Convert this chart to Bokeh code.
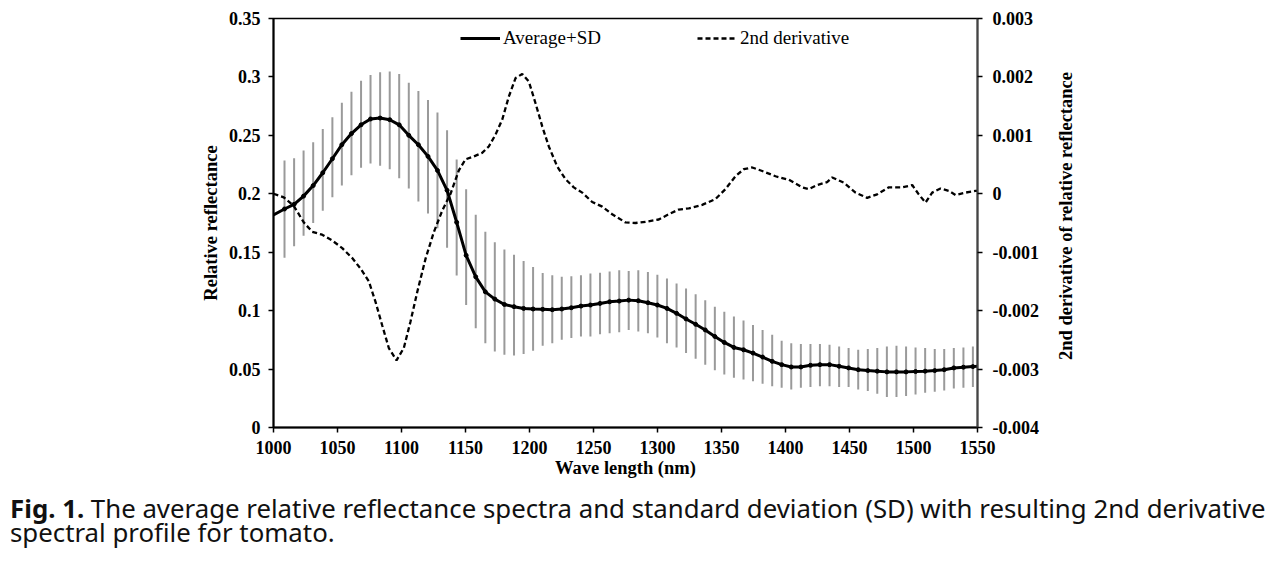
from bokeh.plotting import figure
from bokeh.models import (Range1d, LinearAxis, FixedTicker, Legend, LegendItem, Div)
from bokeh.layouts import column, row
from bokeh.embed import file_html
from bokeh.resources import INLINE

# ---- data ----
bar_wl = [1008.6, 1016.1, 1023.5, 1031.0, 1038.5, 1046.0, 1053.4, 1060.9, 1068.4, 1075.8,
          1083.3, 1090.8, 1098.2, 1105.7, 1113.2, 1120.7, 1128.1, 1135.6, 1143.1, 1150.5,
          1158.0, 1165.5, 1172.9, 1180.4, 1187.9, 1195.4, 1202.8, 1210.3, 1217.8, 1225.2,
          1232.7, 1240.2, 1247.6, 1255.1, 1262.6, 1270.1, 1277.5, 1285.0, 1292.5, 1299.9,
          1307.4, 1314.9, 1322.3, 1329.8, 1337.3, 1344.8, 1352.2, 1359.7, 1367.2, 1374.6,
          1382.1, 1389.6, 1397.0, 1404.5, 1412.0, 1419.5, 1426.9, 1434.4, 1441.9, 1449.3,
          1456.8, 1464.3, 1471.7, 1479.2, 1486.7, 1494.2, 1501.6, 1509.1, 1516.6, 1524.0,
          1531.5, 1539.0, 1546.4]

mean_wl = [1000.0] + bar_wl + [1550.0]
mean_refl = [0.182,
             0.187, 0.191, 0.198, 0.207, 0.218, 0.230, 0.242, 0.2515, 0.259, 0.264,
             0.2648, 0.2634, 0.259, 0.250, 0.242, 0.232, 0.220, 0.203, 0.1756, 0.1473,
             0.1289, 0.1161, 0.1099, 0.1053, 0.1034, 0.1019, 0.1014, 0.1011, 0.1008, 0.1014,
             0.1025, 0.1039, 0.1048, 0.1062, 0.1076, 0.1082, 0.109, 0.1085, 0.1068, 0.1048,
             0.1019, 0.0977, 0.0929, 0.0883, 0.0835, 0.0779, 0.0728, 0.0685, 0.0665, 0.0637,
             0.0603, 0.0566, 0.0538, 0.0518, 0.0518, 0.0532, 0.0538, 0.0538, 0.0524, 0.051,
             0.0495, 0.0487, 0.0482, 0.0476, 0.0476, 0.0476, 0.0479, 0.0482, 0.0487, 0.0495,
             0.051, 0.0516, 0.0521,
             0.0525]

sd_upper = [0.2285, 0.2305, 0.237, 0.244, 0.2554, 0.2656, 0.278, 0.2874, 0.2967, 0.3016,
            0.304, 0.3047, 0.3024, 0.295, 0.288, 0.2803, 0.2696, 0.2543, 0.2294, 0.2039,
            0.182, 0.1676, 0.1586, 0.1523, 0.1478, 0.1424, 0.1373, 0.1322, 0.1303, 0.1289,
            0.1294, 0.1303, 0.1317, 0.1325, 0.1336, 0.1345, 0.134, 0.1345, 0.1331, 0.1308,
            0.1274, 0.1232, 0.1189, 0.1141, 0.109, 0.1034, 0.0991, 0.0949, 0.0915, 0.0878,
            0.0835, 0.0793, 0.0742, 0.0722, 0.0714, 0.0714, 0.0714, 0.0708, 0.0694, 0.068,
            0.0665, 0.0671, 0.068, 0.0694, 0.0699, 0.0694, 0.0685, 0.068, 0.0671, 0.0671,
            0.068, 0.0685, 0.0694]

sd_lower = [0.1453, 0.155, 0.164, 0.175, 0.1855, 0.197, 0.207, 0.2158, 0.2223, 0.226,
            0.224, 0.2209, 0.2132, 0.2045, 0.1934, 0.1832, 0.1705, 0.1538, 0.130, 0.1048,
            0.085, 0.0722, 0.0651, 0.0623, 0.0617, 0.0628, 0.0657, 0.070, 0.0722, 0.075,
            0.0765, 0.0779, 0.0779, 0.0799, 0.0807, 0.0816, 0.0835, 0.0821, 0.0807, 0.077,
            0.0722, 0.0685, 0.0637, 0.0589, 0.0538, 0.049, 0.0453, 0.0425, 0.041, 0.0396,
            0.0374, 0.0354, 0.034, 0.0326, 0.034, 0.0346, 0.0354, 0.0354, 0.0346, 0.0346,
            0.0326, 0.0312, 0.0289, 0.026, 0.026, 0.0269, 0.0283, 0.0297, 0.0306, 0.0317,
            0.0334, 0.034, 0.0346]

deriv_wl = [1000.0, 1008.0, 1015.9, 1023.7, 1030.2, 1038.0, 1045.9, 1053.7, 1061.5, 1068.0,
            1074.5, 1079.7, 1084.9, 1090.1, 1096.1, 1101.8, 1107.0, 1112.3, 1118.8, 1125.2,
            1131.8, 1138.3, 1144.8, 1150.0, 1156.5, 1163.0, 1168.2, 1173.4, 1178.7, 1183.8,
            1189.1, 1194.3, 1199.5, 1204.7, 1210.0, 1215.1, 1221.6, 1228.1, 1234.6, 1241.2,
            1249.0, 1256.8, 1264.6, 1275.0, 1282.8, 1290.6, 1301.0, 1308.8, 1316.6, 1324.5,
            1334.9, 1345.3, 1353.1, 1360.9, 1367.4, 1374.0, 1381.8, 1392.2, 1402.6, 1413.0,
            1418.2, 1424.7, 1432.5, 1436.5, 1445.5, 1454.7, 1463.8, 1471.6, 1480.7, 1491.2,
            1499.0, 1504.1, 1509.4, 1514.6, 1521.1, 1527.6, 1532.8, 1540.6, 1548.4, 1550.0]
deriv_milli = [0.00, -0.06, -0.21, -0.49, -0.65, -0.70, -0.80, -0.93, -1.10, -1.28,
               -1.50, -1.85, -2.25, -2.64, -2.85, -2.64, -2.19, -1.68, -1.11, -0.66,
               -0.29, 0.00, 0.40, 0.59, 0.64, 0.70, 0.81, 1.01, 1.27, 1.66,
               1.98, 2.05, 1.92, 1.55, 1.15, 0.81, 0.47, 0.25, 0.11, 0.02,
               -0.14, -0.22, -0.35, -0.49, -0.50, -0.48, -0.44, -0.35, -0.27, -0.25,
               -0.19, -0.09, 0.08, 0.30, 0.42, 0.45, 0.39, 0.30, 0.24, 0.11,
               0.08, 0.15, 0.20, 0.28, 0.19, 0.02, -0.07, -0.01, 0.11, 0.11,
               0.15, -0.01, -0.15, 0.02, 0.09, 0.05, -0.02, 0.02, 0.05, 0.05]
deriv = [v / 1000.0 for v in deriv_milli]

x_ticks = [1000, 1050, 1100, 1150, 1200, 1250, 1300, 1350, 1400, 1450, 1500, 1550]
left_ticks = [0, 0.05, 0.1, 0.15, 0.2, 0.25, 0.3, 0.35]
left_labels = ["0", "0.05", "0.1", "0.15", "0.2", "0.25", "0.3", "0.35"]
right_ticks = [-0.004, -0.003, -0.002, -0.001, 0, 0.001, 0.002, 0.003]
right_labels = ["-0.004", "-0.003", "-0.002", "-0.001", "0", "0.001", "0.002", "0.003"]

SERIF = "Liberation Serif"

p = figure(width=1055, height=480, output_backend="svg", toolbar_location=None,
           x_range=Range1d(1000, 1550), y_range=Range1d(0, 0.35),
           min_border_left=273, min_border_right=78, min_border_top=18, min_border_bottom=50)
p.extra_y_ranges = {"d": Range1d(-0.004, 0.003)}
p.grid.visible = False
p.outline_line_color = "black"
p.outline_line_width = 1.5
p.background_fill_color = "white"
p.border_fill_color = "white"

# error bars
p.segment(x0=bar_wl, y0=sd_lower, x1=bar_wl, y1=sd_upper, line_color="#9a9a9a", line_width=2)
# mean line
mean_r = p.line(mean_wl, mean_refl, line_color="black", line_width=3)
p.scatter(bar_wl, [mean_refl[i + 1] for i in range(len(bar_wl))], size=4, color="black")
# 2nd derivative
der_r = p.line(deriv_wl, deriv, line_color="black", line_width=2.3, line_dash="5 3",
               y_range_name="d")

def style_axis(ax):
    ax.axis_line_color = "black"
    ax.axis_line_width = 2
    ax.major_tick_line_color = "black"
    ax.major_tick_line_width = 1.5
    ax.major_tick_out = 5
    ax.major_tick_in = 0
    ax.minor_tick_line_color = None
    ax.major_label_text_font = SERIF
    ax.major_label_text_font_style = "bold"
    ax.major_label_text_font_size = "18px"
    ax.major_label_text_color = "black"
    ax.axis_label_text_font = SERIF
    ax.axis_label_text_font_style = "bold"
    ax.axis_label_text_font_size = "18.5px"
    ax.axis_label_text_color = "black"

xa = p.xaxis[0]
xa.ticker = FixedTicker(ticks=x_ticks)
xa.axis_label = "Wave length (nm)"
style_axis(xa)
xa.major_label_standoff = 8
xa.axis_label_standoff = 1

ya = p.yaxis[0]
ya.ticker = FixedTicker(ticks=left_ticks)
ya.major_label_overrides = {t: l for t, l in zip(left_ticks, left_labels)}
ya.axis_label = "Relative reflectance"
style_axis(ya)
ya.major_label_standoff = 8
ya.axis_label_standoff = 5

ra = LinearAxis(y_range_name="d")
ra.ticker = FixedTicker(ticks=right_ticks)
ra.major_label_overrides = {t: l for t, l in zip(right_ticks, right_labels)}
style_axis(ra)
ra.axis_line_color = "#444444"
ra.major_label_standoff = 10
p.add_layout(ra, "right")

legend = Legend(items=[LegendItem(label="Average+SD", renderers=[mean_r]),
                       LegendItem(label="2nd derivative", renderers=[der_r])],
                orientation="horizontal", location=(187, 378))
legend.label_text_font = SERIF
legend.label_text_font_size = "19px"
legend.label_text_color = "black"
legend.glyph_width = 40
legend.label_standoff = 3
legend.spacing = 96
legend.padding = 0
legend.margin = 0
legend.border_line_alpha = 0
legend.background_fill_alpha = 0
p.add_layout(legend)

# right axis title, reading bottom to top like the reference
right_title = Div(text=('<div style="width:22px;height:432px;display:flex;align-items:center;'
                        'justify-content:center;">'
                        '<div style="writing-mode:vertical-rl;transform:rotate(180deg);'
                        'font-family:\'Liberation Serif\';font-weight:bold;font-size:18.5px;'
                        'white-space:nowrap;color:black;">2nd derivative of relative reflectance'
                        '</div></div>'),
                  width=22, height=480, margin=(0, 0, 0, 0))

caption = Div(text=('<div style="font-family:\'Noto Sans\';font-size:25.8px;line-height:24px;'
                    'white-space:nowrap;color:#111;padding-top:16px;">'
                    '<div><b>Fig. 1.</b> <span>The average relative reflectance spectra and standard '
                    'deviation (SD) with resulting 2nd derivative</span></div>'
                    '<div>spectral profile for tomato.</div></div>'),
              width=1275, height=80, margin=(0, 0, 0, 10))

layout = column(row(p, right_title, spacing=0), caption, spacing=0)

open("out.html", "w").write(file_html(layout, INLINE))
